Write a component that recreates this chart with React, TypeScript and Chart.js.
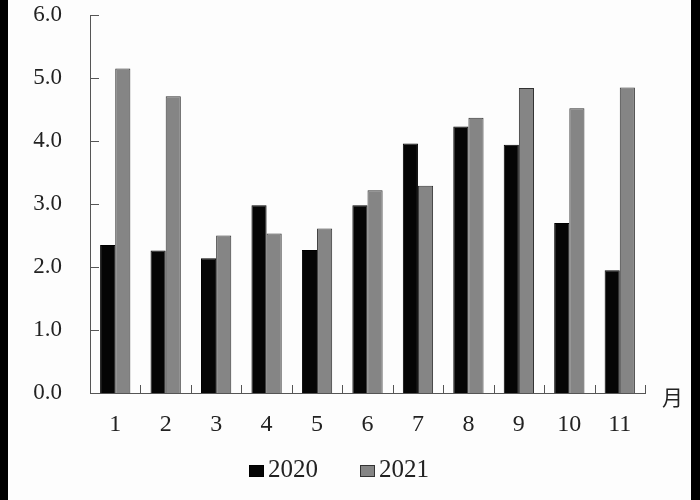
import { useEffect, useRef } from 'react';
import { Chart, registerables } from 'chart.js';

Chart.register(...registerables);

const months = ['1', '2', '3', '4', '5', '6', '7', '8', '9', '10', '11'];
const values2020 = [2.35, 2.26, 2.14, 2.98, 2.27, 2.98, 3.96, 4.23, 3.94, 2.7, 1.95];
const values2021 = [5.15, 4.71, 2.5, 2.53, 2.61, 3.22, 3.29, 4.37, 4.84, 4.52, 4.85];
const seriesLabels = ['2020', '2021'];
const yTickValues = [0, 1, 2, 3, 4, 5, 6];
const xUnitLabel = '月';

const SERIF = '"Liberation Serif", "Times New Roman", serif';

const decorPlugin = {
  id: 'decor',
  beforeDraw(chart: any) {
    const { ctx, width, height } = chart;
    ctx.save();
    ctx.fillStyle = '#fdfdfd';
    ctx.fillRect(0, 0, width, height);
    ctx.fillStyle = '#000';
    ctx.fillRect(0, 0, 8, height);
    ctx.fillRect(691, 0, width - 691, height);
    ctx.restore();
  },
  afterDraw(chart: any) {
    const { ctx, chartArea } = chart;
    const xs = chart.scales.x;
    const ys = chart.scales.y;
    ctx.save();
    ctx.strokeStyle = '#555';
    ctx.lineWidth = 1;
    // y inward ticks
    yTickValues.forEach((v) => {
      const y = Math.round(ys.getPixelForValue(v)) + 0.5;
      ctx.beginPath();
      ctx.moveTo(chartArea.left, y);
      ctx.lineTo(chartArea.left + 9, y);
      ctx.stroke();
    });
    // x inward ticks at category boundaries
    const n = months.length;
    for (let i = 0; i < n; i++) {
      let bx;
      if (i < n - 1) {
        bx = (xs.getPixelForTick(i) + xs.getPixelForTick(i + 1)) / 2;
      } else {
        bx = chartArea.right;
      }
      const x = Math.round(bx) + 0.5;
      ctx.beginPath();
      ctx.moveTo(x, chartArea.bottom);
      ctx.lineTo(x, chartArea.bottom - 8);
      ctx.stroke();
    }
    // unit label
    ctx.fillStyle = '#222';
    ctx.font = '21px "Noto Sans CJK SC", sans-serif';
    ctx.textAlign = 'left';
    ctx.textBaseline = 'middle';
    ctx.fillText(xUnitLabel, chartArea.right + 17, chartArea.bottom + 4);

    // custom legend
    const legendCenter = 339;
    const legendY = 470;
    ctx.font = `25px ${SERIF}`;
    const boxW = 15;
    const boxH = 12;
    const gap = 4;
    const spacing = 42;
    const items = chart.data.datasets.map((ds: any) => ({
      label: ds.label,
      color: ds.backgroundColor,
      border: ds.borderColor,
      w: boxW + gap + ctx.measureText(ds.label).width,
    }));
    const total = items.reduce((s: number, it: any) => s + it.w, 0) + spacing * (items.length - 1);
    let x = legendCenter - total / 2;
    items.forEach((it: any) => {
      ctx.fillStyle = it.color;
      ctx.fillRect(x, legendY - boxH / 2 + 1, boxW, boxH);
      ctx.strokeStyle = it.border;
      ctx.lineWidth = 1;
      ctx.strokeRect(x + 0.5, legendY - boxH / 2 + 1.5, boxW - 1, boxH - 1);
      ctx.fillStyle = '#222';
      ctx.textBaseline = 'middle';
      ctx.fillText(it.label, x + boxW + gap, legendY);
      x += it.w + spacing;
    });
    ctx.restore();
  },
};

export default function App() {
  const ref = useRef<HTMLCanvasElement>(null);
  useEffect(() => {
    const chart = new Chart(ref.current!, {
      type: 'bar',
      data: {
        labels: months,
        datasets: [
          {
            label: seriesLabels[0],
            data: values2020,
            backgroundColor: '#050505',
            borderColor: '#000',
            borderWidth: 1,
            barPercentage: 1,
            categoryPercentage: 0.6,
          },
          {
            label: seriesLabels[1],
            data: values2021,
            backgroundColor: '#858585',
            borderColor: '#333',
            borderWidth: 1,
            barPercentage: 1,
            categoryPercentage: 0.6,
          },
        ],
      },
      options: {
        responsive: false,
        animation: false,
        devicePixelRatio: 1,
        layout: { padding: { top: 15, right: 55, left: 0, bottom: 0 } },
        plugins: {
          legend: { display: false },
          tooltip: { enabled: false },
        },
        scales: {
          x: {
            type: 'category',
            offset: true,
            grid: { display: false, drawTicks: false },
            border: { display: true, color: '#555', width: 1 },
            ticks: {
              padding: 17,
              color: '#222',
              font: { family: SERIF, size: 24 },
              maxRotation: 0,
              autoSkip: false,
            },
            afterFit: (s: any) => {
              s.height = 107;
              s.paddingLeft = 0;
              s.paddingRight = 0;
            },
          },
          y: {
            min: 0,
            max: 6,
            grid: { display: false, drawTicks: false },
            border: { display: true, color: '#555', width: 1 },
            ticks: {
              stepSize: 1,
              padding: 28,
              color: '#222',
              font: { family: SERIF, size: 23 },
              callback: (v: any) => Number(v).toFixed(1),
            },
            afterFit: (s: any) => {
              s.width = 90;
              s.paddingTop = 0;
              s.paddingBottom = 0;
            },
          },
        },
      },
      plugins: [decorPlugin],
    });
    return () => chart.destroy();
  }, []);
  return (
    <div style={{ position: 'fixed', left: 0, top: 0, width: 700, height: 500 }}>
      <canvas ref={ref} width={700} height={500} style={{ width: 700, height: 500, display: 'block' }} />
    </div>
  );
}
